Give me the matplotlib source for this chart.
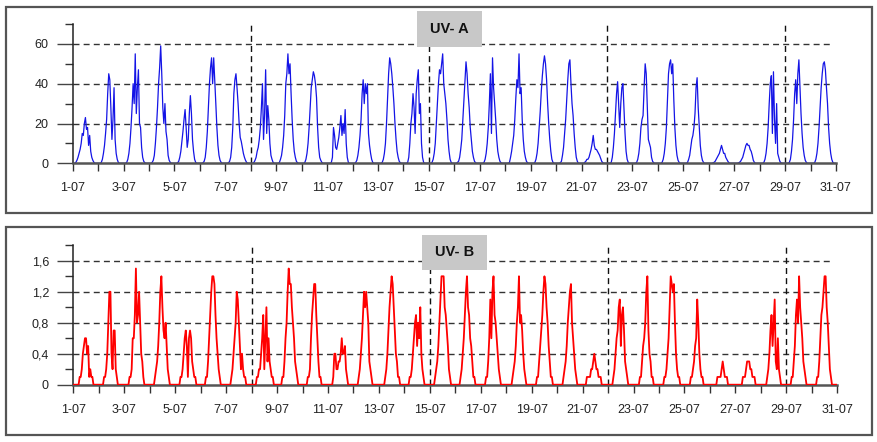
import matplotlib
matplotlib.use("Agg")
import matplotlib.pyplot as plt
import numpy as np
from matplotlib.patches import Rectangle

plt.rcParams['font.family'] = ['Liberation Sans', 'DejaVu Sans']

# hourly readings, hours 3..21 of each day (zero outside)
hours = list(range(3, 22))

uva_week1 = [
    [0.5, 1.5, 3, 5, 7, 10, 15, 14, 20, 23, 17, 18, 9, 14, 6, 3, 1.5, 0.5, 0],
    [0.5, 2, 5, 9, 15, 22, 35, 45, 42, 28, 12, 22, 38, 12, 5, 2, 0.5, 0, 0],
    [0.5, 2, 5, 10, 18, 28, 40, 30, 55, 25, 38, 47, 20, 18, 8, 3, 1, 0.3, 0],
    [0.5, 1.5, 4, 10, 18, 28, 40, 48, 59, 45, 28, 20, 30, 16, 12, 4, 1.5, 0.5, 0],
    [0.3, 1, 3, 6, 11, 16, 22, 27, 18, 8, 12, 25, 34, 25, 12, 6, 2, 0.5, 0],
    [0.3, 1, 3, 8, 16, 28, 40, 48, 53, 40, 53, 42, 30, 18, 9, 4, 1.5, 0.5, 0],
    [0.3, 1, 3, 8, 18, 35, 42, 45, 38, 30, 20, 13, 11, 8, 5, 3, 1.5, 0.5, 0],
]
uva_week2 = [
    [0.5, 1.5, 3, 6, 8, 12, 18, 28, 40, 12, 25, 47, 15, 29, 22, 10, 4, 2, 0.5],
    [0.5, 2, 4, 8, 14, 24, 40, 45, 55, 45, 50, 35, 22, 12, 6, 3, 1, 0.3, 0],
    [0.5, 2, 5, 10, 18, 28, 38, 42, 46, 44, 40, 33, 18, 8, 3, 1.5, 0.5, 0, 0],
    [0, 0.5, 3, 18, 14, 8, 7, 10, 13, 18, 24, 14, 20, 15, 27, 10, 3, 0.5, 0],
    [0.5, 1.5, 4, 8, 14, 22, 35, 42, 30, 40, 35, 40, 15, 9, 5, 2, 0.5, 0, 0],
    [0, 0.5, 2, 5, 10, 20, 32, 45, 53, 50, 45, 38, 30, 20, 12, 6, 3, 1, 0.3],
    [0, 0.5, 3, 10, 20, 25, 35, 28, 15, 35, 42, 47, 25, 30, 10, 3, 0.5, 0, 0],
]
uva_week3 = [
    [0.5, 2, 5, 10, 20, 30, 40, 47, 45, 50, 55, 40, 35, 30, 22, 12, 6, 2, 0.5],
    [0.5, 1, 3, 7, 12, 22, 32, 42, 51, 45, 35, 28, 18, 12, 6, 3, 1, 0.3, 0],
    [0, 0.5, 2, 5, 10, 18, 30, 45, 15, 53, 38, 30, 22, 12, 6, 3, 1, 0.3, 0],
    [0, 0.5, 3, 6, 10, 14, 22, 33, 42, 38, 55, 35, 38, 22, 12, 6, 3, 1, 0.3],
    [0, 0.5, 2, 5, 10, 18, 26, 36, 44, 50, 54, 50, 42, 30, 20, 12, 6, 2, 0.5],
    [0, 0.3, 1, 4, 8, 15, 22, 32, 42, 50, 52, 40, 30, 24, 15, 8, 3, 1, 0],
    [0.5, 1, 2, 2, 3, 5, 7, 10, 14, 9, 7, 7, 6, 5, 4, 2.5, 1, 0.3, 0],
]
uva_week4 = [
    [0, 0.5, 3, 8, 15, 25, 35, 41, 30, 18, 30, 38, 40, 28, 15, 6, 2, 0.5, 0],
    [0, 0.5, 2, 5, 10, 18, 22, 24, 38, 50, 45, 28, 12, 10, 8, 3, 1, 0.3, 0],
    [0, 0.5, 2, 5, 10, 18, 32, 45, 50, 52, 45, 50, 32, 18, 9, 4, 1.5, 0.5, 0],
    [0, 0.5, 2, 4, 8, 12, 14, 18, 25, 38, 43, 28, 18, 9, 4, 1.5, 0.5, 0, 0],
    [0, 0.2, 0.5, 1, 2, 3, 4, 5, 7, 9, 7, 5, 5, 3, 2, 1, 0.3, 0, 0],
    [0, 0.2, 0.5, 1, 2, 3, 5, 7, 9, 10, 9, 9, 7, 6, 4, 1.5, 0.5, 0, 0],
    [0, 0.5, 2, 5, 10, 18, 30, 40, 44, 15, 46, 22, 10, 30, 5, 3, 1, 0.3, 0],
    [0, 0.5, 2, 6, 12, 22, 35, 42, 30, 45, 52, 38, 25, 15, 8, 4, 1.5, 0.5, 0],
    [0, 0.5, 2, 5, 10, 18, 28, 38, 45, 50, 51, 47, 38, 30, 18, 10, 5, 2, 0.5],
]

uvb_week1 = [
    [0, 0, 0, 0.1, 0.1, 0.2, 0.4, 0.5, 0.6, 0.6, 0.4, 0.5, 0.1, 0.2, 0.1, 0.1, 0, 0, 0],
    [0, 0, 0.1, 0.1, 0.2, 0.4, 0.8, 1.2, 1.2, 0.4, 0.2, 0.7, 0.7, 0.2, 0.1, 0, 0, 0, 0],
    [0, 0, 0.1, 0.1, 0.2, 0.6, 0.6, 0.9, 1.5, 0.8, 0.9, 1.2, 0.8, 0.4, 0.3, 0.1, 0, 0, 0],
    [0, 0, 0.1, 0.2, 0.3, 0.5, 0.8, 1.2, 1.4, 1.0, 0.7, 0.6, 0.8, 0.5, 0.2, 0.1, 0, 0, 0],
    [0, 0, 0.1, 0.1, 0.2, 0.4, 0.6, 0.7, 0.5, 0.1, 0.6, 0.7, 0.6, 0.3, 0.2, 0.1, 0.1, 0, 0],
    [0, 0, 0.1, 0.1, 0.3, 0.6, 0.9, 1.2, 1.4, 1.4, 1.3, 0.9, 0.6, 0.4, 0.2, 0.1, 0, 0, 0],
    [0, 0, 0.1, 0.2, 0.4, 0.6, 0.8, 1.2, 1.1, 0.8, 0.5, 0.2, 0.4, 0.2, 0.1, 0.1, 0, 0, 0],
]
uvb_week2 = [
    [0, 0, 0.1, 0.1, 0.2, 0.2, 0.4, 0.6, 0.9, 0.2, 0.6, 1.0, 0.3, 0.6, 0.3, 0.2, 0.1, 0.1, 0],
    [0, 0, 0.1, 0.1, 0.3, 0.6, 0.8, 1.2, 1.5, 1.3, 1.3, 1.0, 0.8, 0.6, 0.3, 0.2, 0.1, 0, 0],
    [0, 0, 0.1, 0.1, 0.2, 0.6, 0.9, 1.1, 1.3, 1.3, 0.9, 0.6, 0.3, 0.1, 0.1, 0, 0, 0, 0],
    [0, 0, 0.1, 0.4, 0.4, 0.2, 0.2, 0.3, 0.3, 0.4, 0.6, 0.4, 0.4, 0.5, 0.2, 0.1, 0, 0, 0],
    [0, 0, 0.1, 0.2, 0.4, 0.6, 0.9, 1.2, 1.0, 1.2, 1.0, 0.8, 0.3, 0.2, 0.1, 0, 0, 0, 0],
    [0, 0, 0, 0.1, 0.2, 0.4, 0.7, 1.0, 1.2, 1.4, 1.3, 1.0, 0.7, 0.4, 0.3, 0.1, 0.1, 0, 0],
    [0, 0, 0.1, 0.1, 0.2, 0.4, 0.6, 0.8, 0.9, 0.5, 0.8, 0.6, 1.0, 0.4, 0.2, 0.1, 0, 0, 0],
]
uvb_week3 = [
    [0, 0, 0.1, 0.2, 0.3, 0.5, 0.8, 1.1, 1.4, 1.4, 1.4, 1.0, 0.9, 0.7, 0.5, 0.2, 0.1, 0, 0],
    [0, 0, 0.1, 0.2, 0.4, 0.6, 0.9, 1.2, 1.4, 1.0, 0.9, 0.6, 0.5, 0.3, 0.1, 0.1, 0, 0, 0],
    [0, 0, 0.1, 0.1, 0.3, 0.6, 1.1, 0.6, 1.2, 1.4, 0.9, 0.8, 0.6, 0.4, 0.2, 0.1, 0, 0, 0],
    [0, 0, 0, 0.1, 0.2, 0.3, 0.5, 0.8, 1.0, 1.4, 0.8, 0.9, 0.7, 0.4, 0.2, 0.1, 0, 0, 0],
    [0, 0, 0.1, 0.1, 0.3, 0.5, 0.7, 0.9, 1.2, 1.4, 1.3, 1.0, 0.8, 0.5, 0.3, 0.1, 0.1, 0, 0],
    [0, 0, 0, 0.1, 0.2, 0.3, 0.5, 0.8, 1.0, 1.2, 1.3, 0.8, 0.6, 0.4, 0.2, 0.1, 0, 0, 0],
    [0, 0.1, 0.1, 0.1, 0.1, 0.2, 0.2, 0.3, 0.4, 0.3, 0.2, 0.2, 0.1, 0.1, 0.1, 0, 0, 0, 0],
]
uvb_week4 = [
    [0, 0, 0.1, 0.2, 0.4, 0.6, 0.7, 1.0, 1.1, 0.5, 0.9, 1.0, 0.7, 0.3, 0.2, 0.1, 0, 0, 0],
    [0, 0, 0, 0.1, 0.1, 0.3, 0.5, 0.6, 0.8, 1.2, 1.4, 0.7, 0.4, 0.3, 0.1, 0.1, 0, 0, 0],
    [0, 0, 0.1, 0.1, 0.2, 0.4, 0.6, 1.0, 1.4, 1.3, 1.2, 1.3, 0.8, 0.4, 0.2, 0.1, 0.1, 0, 0],
    [0, 0, 0, 0.1, 0.1, 0.2, 0.3, 0.5, 0.6, 1.1, 0.8, 0.4, 0.2, 0.1, 0.1, 0, 0, 0, 0],
    [0, 0, 0, 0, 0.1, 0.1, 0.1, 0.1, 0.2, 0.3, 0.2, 0.1, 0.1, 0.1, 0, 0, 0, 0, 0],
    [0, 0, 0, 0, 0.1, 0.1, 0.1, 0.2, 0.3, 0.3, 0.3, 0.2, 0.2, 0.1, 0.1, 0.1, 0, 0, 0],
    [0, 0, 0, 0.1, 0.2, 0.4, 0.7, 0.9, 0.5, 0.8, 1.1, 0.3, 0.2, 0.6, 0.2, 0.1, 0, 0, 0],
    [0, 0, 0.1, 0.1, 0.3, 0.5, 0.9, 1.1, 0.8, 1.4, 1.0, 0.8, 0.6, 0.3, 0.2, 0.1, 0, 0, 0],
    [0, 0, 0.1, 0.1, 0.3, 0.6, 0.9, 1.0, 1.2, 1.4, 1.4, 1.0, 0.8, 0.5, 0.2, 0.1, 0, 0, 0],
]

day_labels = ['1-07', '3-07', '5-07', '7-07', '9-07', '11-07', '13-07', '15-07',
              '17-07', '19-07', '21-07', '23-07', '25-07', '27-07', '29-07', '31-07']
week_lines = [8, 15, 22, 29]


def to_series(days):
    y = np.zeros(len(days) * 24 + 1)
    for i, vals in enumerate(days):
        y[i * 24 + hours[0]: i * 24 + hours[-1] + 1] = vals
    x = np.arange(len(y)) / 24.0
    return x, y


W, H = 878, 442
fig = plt.figure(figsize=(W / 100, H / 100), dpi=100)

# outer frames
for (y0, y1) in [(7, 213), (227, 435)]:
    fig.patches.append(Rectangle((6 / W, 1 - y1 / H), 866 / W, (y1 - y0) / H,
                                 transform=fig.transFigure, fill=False,
                                 ec='#555555', lw=1.6))

ax1 = fig.add_axes([72.7 / W, 1 - 163.3 / H, (836 - 72.7) / W, (163.3 - 24) / H])
ax2 = fig.add_axes([73.3 / W, 1 - 384.7 / H, (837.3 - 73.3) / W, (384.7 - 245.3) / H])

xa, ya = to_series(uva_week1 + uva_week2 + uva_week3 + uva_week4)
xb, yb = to_series(uvb_week1 + uvb_week2 + uvb_week3 + uvb_week4)

ax1.plot(xa, ya, color='#1414e6', lw=0.9, zorder=2)
ax2.plot(xb, yb, color='#ff0000', lw=1.3, zorder=4)

dash = (0, (4.3, 3.0))
for ax, grid, ymax, major, minor, labels in [
        (ax1, [20, 40, 60], 70, [0, 20, 40, 60], [10, 30, 50, 70], ['0', '20', '40', '60']),
        (ax2, [0.4, 0.8, 1.2, 1.6], 1.8, [0, 0.4, 0.8, 1.2, 1.6], [0.2, 0.6, 1.0, 1.4, 1.8],
         ['0', '0,4', '0,8', '1,2', '1,6'])]:
    ax.set_xlim(0, 30)
    ax.set_ylim(0, ymax)
    ax.set_facecolor('none')
    for s in ['top', 'right']:
        ax.spines[s].set_visible(False)
    ax.spines['left'].set_color('#222222')
    ax.spines['left'].set_linewidth(1.1)
    ax.spines['bottom'].set_color('#555555')
    ax.spines['bottom'].set_linewidth(1.8)
    ax.spines['bottom'].set_zorder(3)
    for g in grid:
        ax.axhline(g, xmin=0, xmax=0.992, color='#333333', lw=1.0, ls=dash, zorder=1)
    for d in week_lines:
        ax.axvline(d - 1, color='#111111', lw=1.0, ls=dash, zorder=1)
    ax.set_xticks(range(31))
    ax.set_xticklabels([day_labels[i // 2] if i % 2 == 0 else '' for i in range(31)])
    ax.set_yticks(major)
    ax.set_yticklabels(labels)
    ax.set_yticks(minor, minor=True)
    ax.tick_params(axis='x', direction='out', length=5.8, width=1.0, color='#333333',
                   pad=8, labelsize=9, labelcolor='#222222')
    ax.tick_params(axis='y', which='major', direction='out', length=11.5, width=1.0,
                   color='#444444', pad=6, labelsize=9, labelcolor='#222222')
    ax.tick_params(axis='y', which='minor', direction='out', length=5.5, width=1.0,
                   color='#333333')

# title boxes
for (x0, x1, y0, y1, txt) in [(417, 482, 11, 47, 'UV- A'), (422, 487, 235, 270, 'UV- B')]:
    fig.patches.append(Rectangle((x0 / W, 1 - y1 / H), (x1 - x0) / W, (y1 - y0) / H,
                                 transform=fig.transFigure, fc='#c8c8c8', ec='none',
                                 zorder=5))
    fig.text((x0 + x1) / 2 / W, 1 - (y0 + y1) / 2 / H, txt, ha='center', va='center',
             fontsize=10.5, fontweight='bold', color='#111111', zorder=6)

fig.savefig('out.png', dpi=100)
